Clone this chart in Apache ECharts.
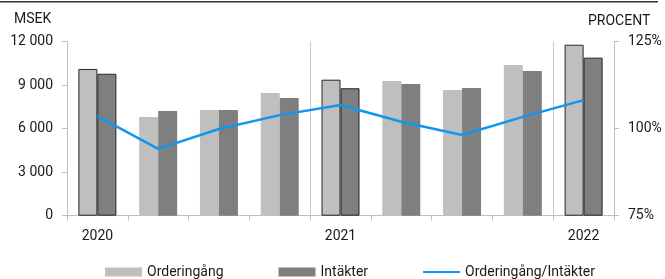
<!DOCTYPE html>
<html>
<head>
<meta charset="utf-8">
<script src="https://cdn.jsdelivr.net/npm/echarts@6/dist/echarts.min.js"></script>
<style>
  html, body { margin: 0; padding: 0; background: #fff; }
  #chart { width: 665px; height: 279px; }
</style>
</head>
<body>
<div id="chart"></div>
<script>
// kvartal, Q1 2020 - Q1 2022
const quarters = ['2020 Q1', '2020 Q2', '2020 Q3', '2020 Q4', '2021 Q1', '2021 Q2', '2021 Q3', '2021 Q4', '2022 Q1']
const orderingang = [10120, 6810, 7290, 8460, 9380, 9290, 8670, 10390, 11790]
const intakter = [9790, 7220, 7290, 8120, 8790, 9080, 8810, 9980, 10900]
const kvot = [103.6, 94.2, 99.9, 103.9, 106.8, 102.0, 98.2, 103.4, 108.2]
const leftTicks = [0, 3000, 6000, 9000, 12000]
const rightTicks = [75, 100, 125]

const font = 'Roboto, "Liberation Sans", sans-serif'
const txt = '#1a1a1a'
const axisGray = '#bfbfbf'

// första kvartalet varje år har ram runt staplarna
function withBorder (arr) {
  return arr.map((v, i) => {
    if (quarters[i].indexOf('Q1') !== -1) {
      return { value: v, itemStyle: { borderColor: '#262626', borderWidth: 1 } }
    }
    return v
  })
}

let chart = echarts.init(document.getElementById('chart'))
let option = {
  animation: false,
  backgroundColor: '#fff',
  textStyle: { fontFamily: font },
  graphic: [
    { type: 'rect', left: 0, top: 1, shape: { width: 658, height: 1.5 }, style: { fill: '#333' } },
    { type: 'text', left: 14, top: 12, style: { text: 'MSEK', font: '14px ' + font, fill: txt } },
    { type: 'text', left: 588, top: 14, style: { text: 'PROCENT', font: '14px ' + font, fill: txt } }
  ],
  grid: { left: 67, right: 51, top: 41.7, bottom: 63.3 },
  legend: {
    left: 100,
    top: 260,
    itemWidth: 37,
    itemHeight: 9,
    itemGap: 55,
    textStyle: { fontFamily: font, fontSize: 14, color: txt },
    data: [
      { name: 'Orderingång', icon: 'rect' },
      { name: 'Intäkter', icon: 'rect' },
      { name: 'Orderingång/Intäkter', icon: 'path://M0 0H100V6H0Z' }
    ]
  },
  xAxis: {
    type: 'category',
    data: quarters,
    axisLine: { lineStyle: { color: axisGray, width: 1 } },
    axisTick: { show: true, length: 5, lineStyle: { color: axisGray } },
    axisLabel: {
      interval: 0,
      margin: 14,
      fontSize: 14,
      color: txt,
      fontFamily: font,
      formatter: function (value) {
        return value.indexOf('Q1') !== -1 ? value.substring(0, 4) : ''
      }
    },
    splitLine: {
      show: true,
      interval: function (index) { return index === 4 || index === 8 },
      lineStyle: { color: '#c8c8c8', width: 1 }
    }
  },
  yAxis: [
    {
      type: 'value',
      min: leftTicks[0],
      max: leftTicks[leftTicks.length - 1],
      interval: 3000,
      axisLine: { show: true, lineStyle: { color: axisGray } },
      axisTick: { show: true, length: 5, lineStyle: { color: axisGray } },
      splitLine: { show: false },
      axisLabel: {
        margin: 14,
        fontSize: 14,
        color: txt,
        fontFamily: font,
        formatter: function (v) {
          return v >= 1000 ? Math.floor(v / 1000) + ' ' + String(v % 1000).padStart(3, '0') : String(v)
        }
      }
    },
    {
      type: 'value',
      position: 'right',
      min: rightTicks[0],
      max: rightTicks[rightTicks.length - 1],
      interval: 25,
      axisLine: { show: true, lineStyle: { color: axisGray } },
      axisTick: { show: true, length: 5, lineStyle: { color: axisGray } },
      splitLine: { show: false },
      axisLabel: { margin: 14, fontSize: 14, color: txt, fontFamily: font, formatter: '{value}%' }
    }
  ],
  series: [
    {
      name: 'Orderingång',
      type: 'bar',
      barWidth: 19,
      barGap: '0%',
      itemStyle: { color: '#bfbfbf' },
      data: withBorder(orderingang)
    },
    {
      name: 'Intäkter',
      type: 'bar',
      barWidth: 19,
      barGap: '0%',
      itemStyle: { color: '#7f7f7f' },
      data: withBorder(intakter)
    },
    {
      name: 'Orderingång/Intäkter',
      type: 'line',
      yAxisIndex: 1,
      symbol: 'none',
      showSymbol: false,
      lineStyle: { color: '#0f96f0', width: 2.5 },
      itemStyle: { color: '#0f96f0' },
      data: kvot
    }
  ]
}
chart.setOption(option)
</script>
</body>
</html>
